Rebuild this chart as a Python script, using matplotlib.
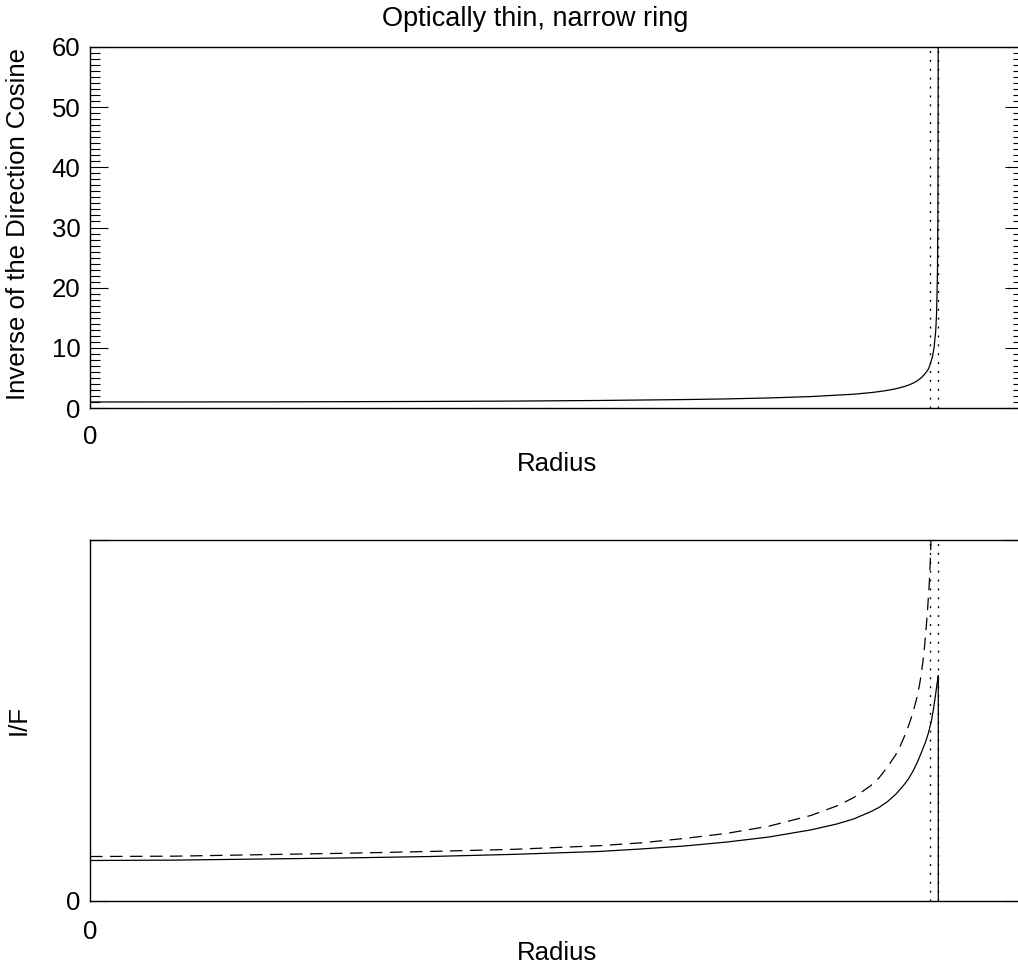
import matplotlib
matplotlib.use("Agg")
import matplotlib.pyplot as plt
from matplotlib.ticker import MultipleLocator

plt.rcParams['font.family'] = ['Liberation Sans', 'DejaVu Sans']

# ---- data ----
title = "Optically thin, narrow ring"
x_label = "Radius"
top_ylabel = "Inverse of the Direction Cosine"
bottom_ylabel = "I/F"

ring_inner = 0.99
ring_outer = 1.0
radius_max = 1.1

# top panel: inverse of the direction cosine vs radius
r_top = [0.0, 0.1, 0.2, 0.3, 0.4, 0.5, 0.6, 0.7, 0.75, 0.8, 0.85, 0.9, 0.92,
         0.93, 0.94, 0.95, 0.96, 0.965, 0.97, 0.975, 0.98, 0.985, 0.988, 0.99,
         0.993, 0.995, 0.997, 0.998, 0.999, 0.9995, 0.9998, 0.9999]
inv_mu = [1.00, 1.005, 1.02, 1.05, 1.09, 1.15, 1.25, 1.40, 1.51, 1.67, 1.90,
          2.29, 2.55, 2.72, 2.93, 3.20, 3.57, 3.81, 4.11, 4.50, 5.03, 5.80,
          6.40, 7.09, 8.46, 10.0, 12.9, 15.8, 22.4, 31.6, 50.0, 70.7]

# bottom panel: I/F, solid curve
r_solid = [0.0, 0.1, 0.2, 0.3, 0.4, 0.5, 0.6, 0.65, 0.7, 0.75, 0.8, 0.85,
           0.88, 0.9, 0.92, 0.93, 0.94, 0.95, 0.96, 0.965, 0.97, 0.975, 0.98,
           0.985, 0.988, 0.99, 0.992, 0.994, 0.996, 0.998, 0.999, 1.0, 1.0]
if_solid = [0.111, 0.112, 0.115, 0.118, 0.122, 0.128, 0.136, 0.143, 0.151,
            0.162, 0.176, 0.196, 0.212, 0.226, 0.246, 0.258, 0.274, 0.295,
            0.322, 0.338, 0.358, 0.382, 0.41, 0.44, 0.462, 0.48, 0.50, 0.527,
            0.558, 0.592, 0.608, 0.624, 0.0]

# bottom panel: I/F, dashed curve
r_dashed = [0.0, 0.1, 0.2, 0.3, 0.4, 0.5, 0.6, 0.65, 0.7, 0.75, 0.8, 0.85,
            0.88, 0.9, 0.92, 0.93, 0.94, 0.95, 0.955, 0.96, 0.965, 0.97,
            0.975, 0.978, 0.98, 0.982, 0.984, 0.986, 0.987, 0.988, 0.989,
            0.99, 0.9905, 0.991, 0.9915, 0.992]
if_dashed = [0.122, 0.123, 0.127, 0.131, 0.136, 0.142, 0.152, 0.160, 0.172,
             0.186, 0.206, 0.236, 0.262, 0.285, 0.318, 0.34, 0.37, 0.405,
             0.428, 0.455, 0.485, 0.52, 0.565, 0.60, 0.63, 0.665, 0.71, 0.765,
             0.795, 0.83, 0.865, 0.91, 0.94, 0.97, 1.01, 1.06]

top_ylim = (0, 60)
bottom_ylim = (0, 1)

# ---- figure ----
W, H = 1018, 969
fig = plt.figure(figsize=(W / 100, H / 100), dpi=100)
ax_w = radius_max * 848.3 / W
ax1 = fig.add_axes([90 / W, 1 - 408 / H, ax_w, 361 / H])
ax2 = fig.add_axes([90 / W, 1 - 900.5 / H, ax_w, 360.5 / H])

fs = 18.5
lw = 0.9
dot_style = (0, (1.4, 5.0))
dash_style = (0, (10, 6))

for ax in (ax1, ax2):
    for s in ax.spines.values():
        s.set_linewidth(1.0)
    ax.set_xlim(0, radius_max)
    ax.set_xticks([0])
    ax.set_xticklabels(["0"])
    ax.tick_params(axis='x', length=0, labelsize=fs)
    ax.axvline(ring_inner, color='black', lw=1.0, ls=dot_style)
    ax.axvline(ring_outer, color='black', lw=1.0, ls=dot_style)

ax1.tick_params(axis='x', pad=12)
ax2.tick_params(axis='x', pad=14)

# top panel
ax1.plot(r_top, inv_mu, color='black', lw=lw)
ax1.set_ylim(*top_ylim)
ax1.yaxis.set_major_locator(MultipleLocator(10))
ax1.yaxis.set_minor_locator(MultipleLocator(1))
ax1.tick_params(axis='y', which='major', direction='in', length=13, width=0.8,
                left=True, right=True, pad=7, labelsize=fs)
ax1.tick_params(axis='y', which='minor', direction='in', length=7, width=0.8,
                left=True, right=True)
ax1.set_ylabel(top_ylabel, fontsize=fs)
ax1.yaxis.set_label_coords(-0.064, 0.51)
ax1.set_xlabel(x_label, fontsize=fs)
ax1.xaxis.set_label_coords(0.5, -0.155)
ax1.xaxis.label.set_verticalalignment('center')

# bottom panel
ax2.plot(r_solid, if_solid, color='black', lw=lw)
ax2.plot(r_dashed, if_dashed, color='black', lw=lw, ls=dash_style)
ax2.set_ylim(*bottom_ylim)
ax2.set_yticks([0, 1])
ax2.set_yticklabels(["0", ""])
ax2.tick_params(axis='y', which='major', direction='in', length=13, width=0.8,
                left=True, right=True, pad=7, labelsize=fs)
ax2.set_ylabel(bottom_ylabel, fontsize=fs)
ax2.yaxis.set_label_coords(-0.064, 0.5)
ax2.set_xlabel(x_label, fontsize=fs)
ax2.xaxis.set_label_coords(0.5, -0.145)
ax2.xaxis.label.set_verticalalignment('center')

fig.text(535 / W, 1 - 19 / H, title, ha='center', va='center', fontsize=19.5)

fig.savefig("out.png", dpi=100)
